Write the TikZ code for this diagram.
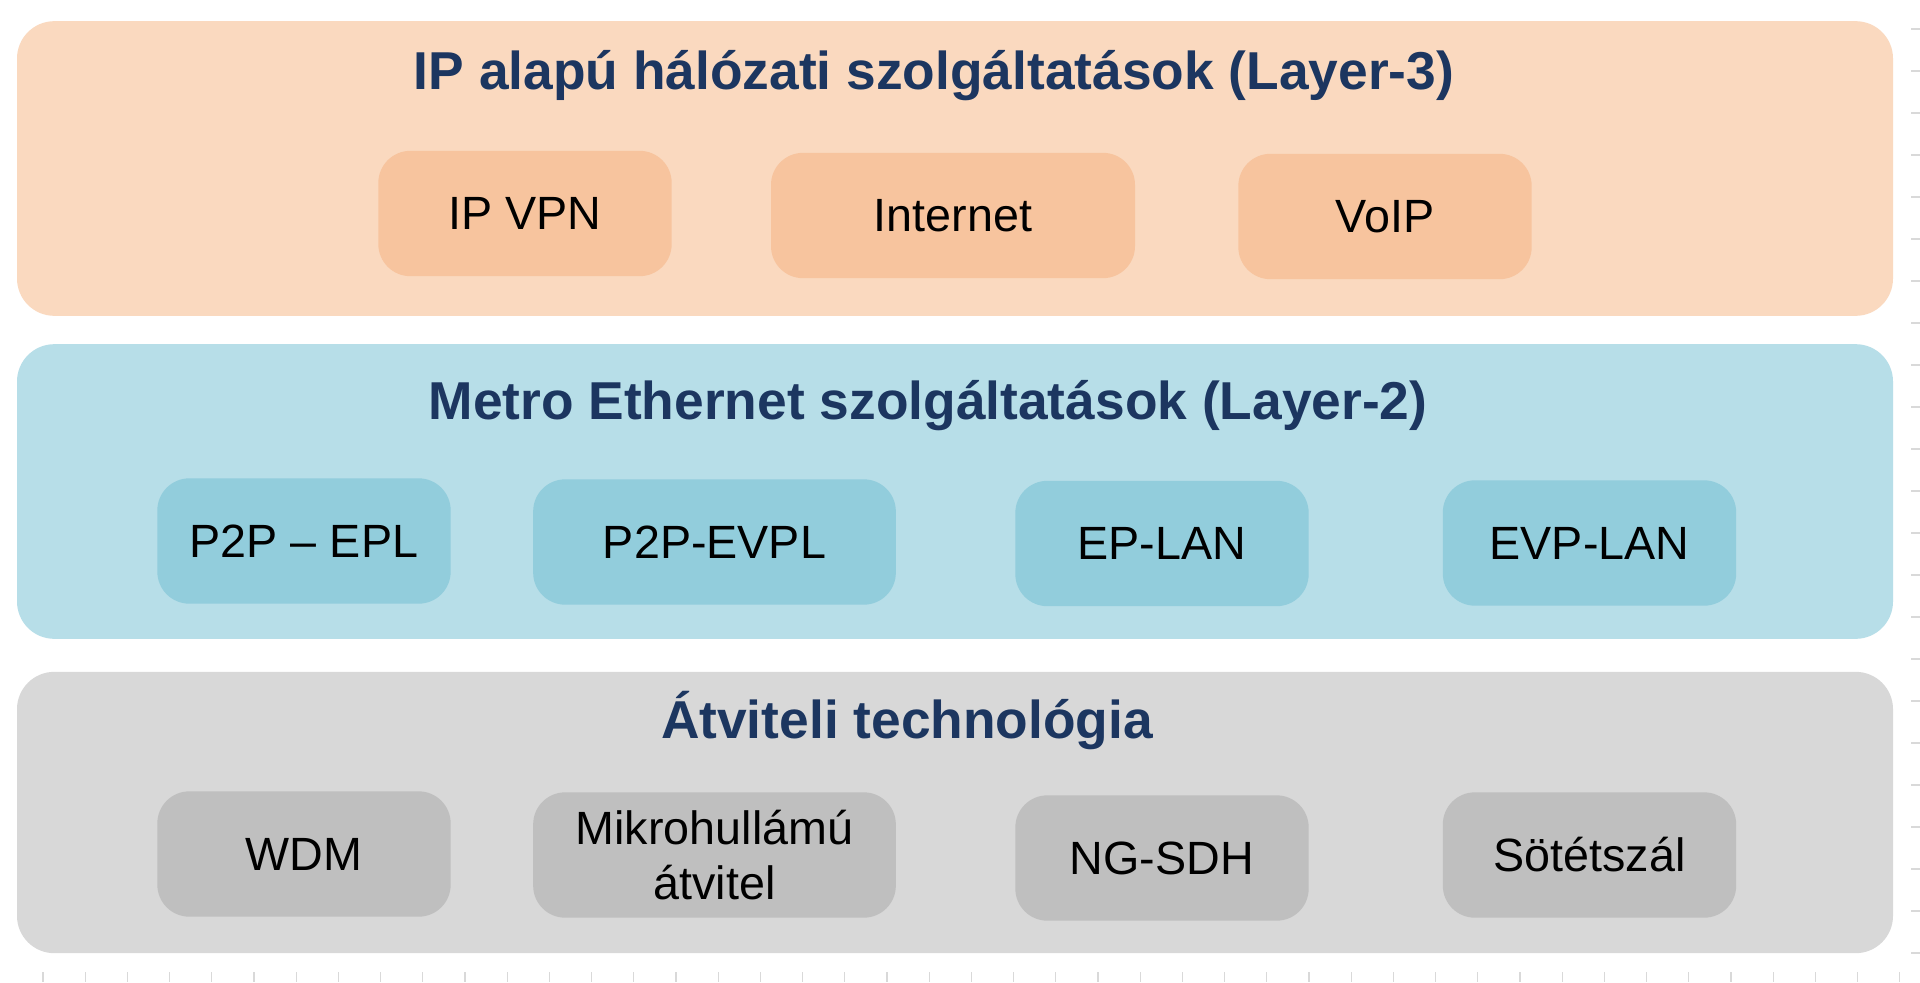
\documentclass[tikz,border=0pt]{standalone}
\usepackage{fontspec}
\setmainfont{Liberation Sans}
\definecolor{peachbg}{RGB}{250,217,191}
\definecolor{peachbox}{RGB}{247,196,158}
\definecolor{bluebg}{RGB}{183,222,232}
\definecolor{bluebox}{RGB}{146,205,220}
\definecolor{greybg}{RGB}{216,216,216}
\definecolor{greybox}{RGB}{191,191,191}
\definecolor{titleblue}{RGB}{28,54,96}
\tikzset{
  panel/.style={rounded corners=28pt, minimum width=1407pt, inner sep=0pt, draw=none},
  itembox/.style={rounded corners=24pt, minimum height=94pt, inner sep=0pt, draw=none,
    font=\fontsize{35}{41}\selectfont, align=center, text=black},
  paneltitle/.style={anchor=base, font=\fontsize{40}{46}\selectfont\bfseries, text=titleblue},
  tick/.style={draw=gray!30, line width=0.8pt}
}
\begin{document}
\begin{tikzpicture}[x=0.75pt,y=-0.75pt]
\useasboundingbox (0,0) rectangle (1920,982);
\fill[white] (0,0) rectangle (1920,982);
% panels
\node[panel, fill=peachbg, minimum height=221pt] (p3) at (955,168.5) {};
\node[panel, fill=bluebg, minimum height=221pt] (p2) at (955,491.5) {};
\node[panel, fill=greybg, minimum height=211pt] (p1) at (955,812.5) {};
% titles
\node[paneltitle] (t3) at (934,89) {IP alapú hálózati szolgáltatások (Layer-3)};
\node[paneltitle] (t2) at (928,419) {Metro Ethernet szolgáltatások (Layer-2)};
\node[paneltitle] (t1) at (907,738) {Átviteli technológia};
% layer 3 items
\node[itembox, fill=peachbox, minimum width=220pt] (ipvpn) at (525,213.5) {IP VPN};
\node[itembox, fill=peachbox, minimum width=273pt] (inet) at (953,215.5) {Internet};
\node[itembox, fill=peachbox, minimum width=220pt] (voip) at (1385,216.5) {VoIP};
% layer 2 items
\node[itembox, fill=bluebox, minimum width=220pt] (epl) at (304,541) {P2P – EPL};
\node[itembox, fill=bluebox, minimum width=272pt] (evpl) at (714.5,542) {P2P-EVPL};
\node[itembox, fill=bluebox, minimum width=220pt] (eplan) at (1162,543.5) {EP-LAN};
\node[itembox, fill=bluebox, minimum width=220pt] (evplan) at (1589.5,543) {EVP-LAN};
% transport items
\node[itembox, fill=greybox, minimum width=220pt] (wdm) at (304,854) {WDM};
\node[itembox, fill=greybox, minimum width=272pt] (mikro) at (714.5,855) {Mikrohullámú\\átvitel};
\node[itembox, fill=greybox, minimum width=220pt] (ngsdh) at (1162,858) {NG-SDH};
\node[itembox, fill=greybox, minimum width=220pt] (sotet) at (1589.5,855) {Sötétszál};
% faint ruler ticks
\foreach \i in {0,...,44} {
  \draw[tick] ({43+42.2*\i},972) -- ({43+42.2*\i},982);
}
\foreach \j in {0,...,22} {
  \draw[tick] (1911,{29+42*\j}) -- (1920,{29+42*\j});
}
\end{tikzpicture}
\end{document}
